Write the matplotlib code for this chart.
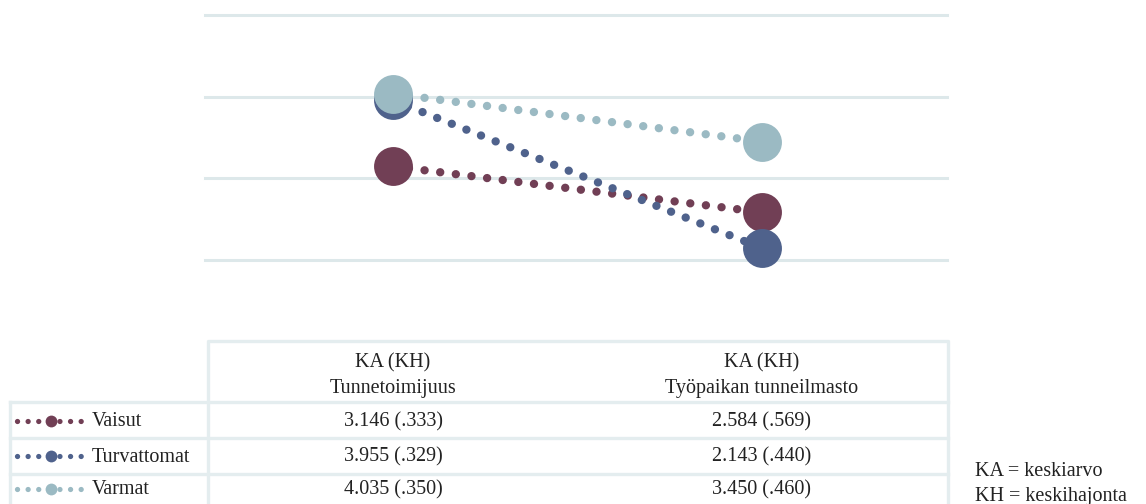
import matplotlib.pyplot as plt
from matplotlib.lines import Line2D

plt.rcParams['font.family'] = ['Liberation Serif', 'DejaVu Serif']

# data
groups = ["Vaisut", "Turvattomat", "Varmat"]
measures = ["Tunnetoimijuus", "Työpaikan tunneilmasto"]
means = {
    "Vaisut": [3.146, 2.584],
    "Turvattomat": [3.955, 2.143],
    "Varmat": [4.035, 3.450],
}
sds = {
    "Vaisut": [0.333, 0.569],
    "Turvattomat": [0.329, 0.440],
    "Varmat": [0.350, 0.460],
}
colors = {"Vaisut": "#713f55", "Turvattomat": "#4f628c", "Varmat": "#9bbac3"}
grid_y = [2, 3, 4, 5]

W, H = 1146, 504
fig = plt.figure(figsize=(W / 100, H / 100), dpi=100)

# main chart
ax = fig.add_axes([205 / W, (H - 260) / H, 742 / W, 245 / H])
ax.set_xlim(-0.51, 1.5)
ax.set_ylim(2, 5)
for y in grid_y:
    ax.axhline(y, color="#dde8ea", lw=2.2, zorder=0, clip_on=False)
for g in groups:
    ax.plot([0, 1], means[g], color=colors[g], lw=6, dashes=(0.01, 1.88),
            dash_capstyle="round", zorder=2, clip_on=False)
for g in groups:
    ax.plot([0, 1], means[g], ls="none", marker="o", ms=28, mec="none",
            color=colors[g], zorder=3, clip_on=False)
ax.axis("off")

# table overlay in pixel coords
ov = fig.add_axes([0, 0, 1, 1], zorder=-1)
ov.set_xlim(0, W)
ov.set_ylim(H, 0)
ov.axis("off")
bc = "#e4edef"
lw = 2.4
# header box
ov.plot([208, 208, 948, 948], [H + 5, 341, 341, H + 5], color=bc, lw=lw)
for y in [402, 438, 474]:
    ov.plot([10, 948], [y, y], color=bc, lw=lw)
ov.plot([10, 10], [402, H + 5], color=bc, lw=lw)

fs = 14.5
tc = "#222222"
col_x = [393, 762]
for i, m in enumerate(measures):
    ov.text(col_x[i], 363, "KA (KH)", ha="center", va="center", fontsize=fs, color=tc)
    ov.text(col_x[i], 389, m, ha="center", va="center", fontsize=fs, color=tc)

row_y = [421, 456, 489]
for j, g in enumerate(groups):
    y = row_y[j]
    ov.add_line(Line2D([17, 90], [y, y], color=colors[g], lw=3.8, dashes=(0.01, 2.0),
                       dash_capstyle="round"))
    ov.plot([51], [y], marker="o", ms=8.5, mec="none", color=colors[g])
    ov.text(92, y + 1, g, ha="left", va="center", fontsize=fs, color=tc)
    for i in range(2):
        txt = f"{means[g][i]:.3f} ({sds[g][i]:.3f}".replace("(0.", "(.") + ")"
        ov.text(col_x[i], y + 1, txt, ha="center", va="center", fontsize=fs, color=tc)

ov.text(975, 471, "KA = keskiarvo", ha="left", va="center", fontsize=fs, color=tc)
ov.text(975, 496, "KH = keskihajonta", ha="left", va="center", fontsize=fs, color=tc)

fig.savefig("out.png", dpi=100)
